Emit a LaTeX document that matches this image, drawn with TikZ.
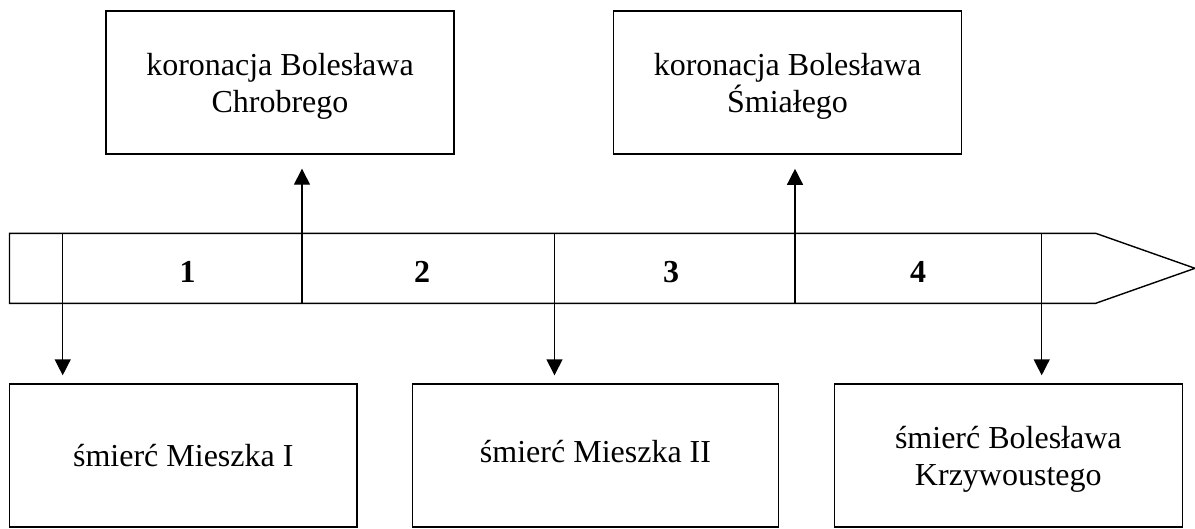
\documentclass[tikz,border=0pt]{standalone}
\usepackage{fontspec}
\setmainfont{Liberation Serif}
\usetikzlibrary{arrows.meta}

\begin{document}
\begin{tikzpicture}[x=1pt,y=-1pt,
  line width=1.4pt,
  event/.style={draw, align=center, minimum height=143pt, inner sep=0pt,
    font=\fontsize{32}{37}\selectfont, text depth=-6pt},
  period/.style={font=\fontsize{32}{37}\selectfont\bfseries},
  pointer/.style={-{Triangle[length=16pt,width=16pt]}}]
\useasboundingbox (0,0) rectangle (1195,528);
% the boxes
\node [event, minimum width=348pt] (chrobry) at (280,82.5) {koronacja Bolesława\\Chrobrego};
\node [event, minimum width=348pt] (smialy) at (787.5,82.6) {koronacja Bolesława\\Śmiałego};
\node [event, minimum width=347.5pt] (mieszko1) at (183.3,455.5) {śmierć Mieszka I};
\node [event, minimum width=365.6pt] (mieszko2) at (595.5,455.5) {\raisebox{8pt}{śmierć Mieszka II}};
\node [event, minimum width=348pt] (krzywousty) at (1008.3,455.5) {śmierć Bolesława\\Krzywoustego};
% the time line
\draw (9.5,233.3) -- (1095.7,233.3) -- (1195,268.3) -- (1095.7,303.3) -- (9.5,303.3) -- cycle;
\coordinate (t1) at (62.7,233.3);
\coordinate (b2) at (302,303.3);
\coordinate (t3) at (554.5,233.3);
\coordinate (b4) at (795,303.3);
\coordinate (t5) at (1041.7,233.3);
\node [period] (p1) at (187.5,272) {1};
\node [period] (p2) at (422,272) {2};
\node [period] (p3) at (671,272) {3};
\node [period] (p4) at (918,272) {4};
% the arrows
\draw [pointer, shorten >=14pt] (b2) -- (b2 |- chrobry.south);
\draw [pointer, shorten >=14pt] (b4) -- (b4 |- smialy.south);
\draw [pointer, shorten >=8pt] (t1) -- (t1 |- mieszko1.north);
\draw [pointer, shorten >=8pt] (t3) -- (t3 |- mieszko2.north);
\draw [pointer, shorten >=8pt] (t5) -- (t5 |- krzywousty.north);
\end{tikzpicture}
\end{document}
